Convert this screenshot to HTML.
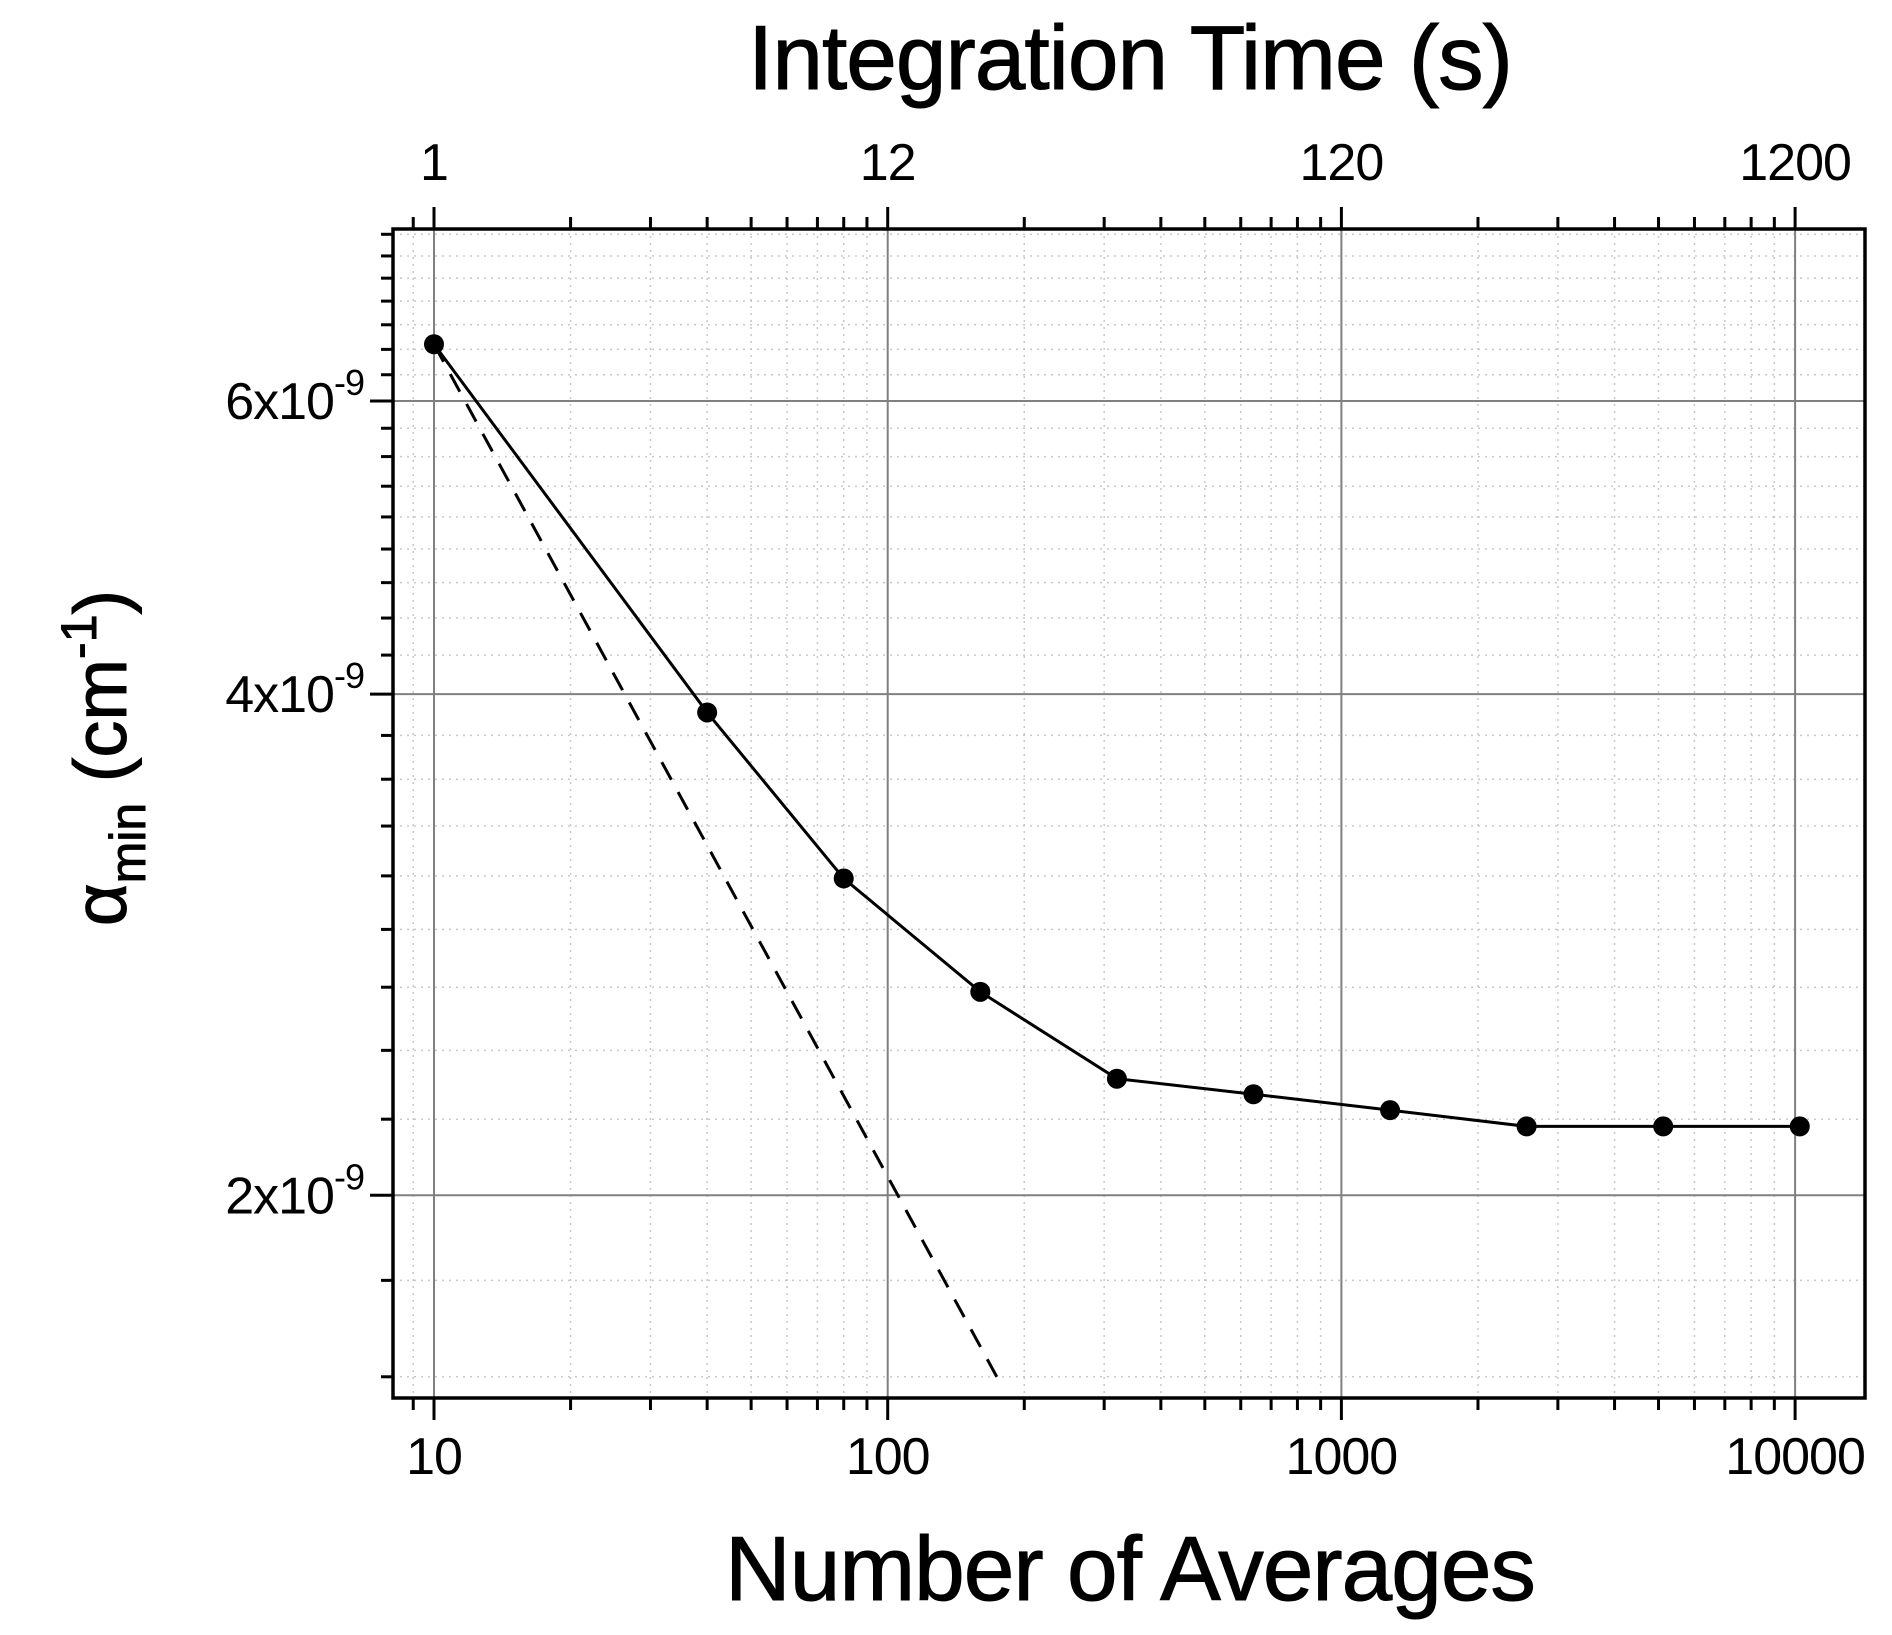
<!DOCTYPE html>
<html><head><meta charset="utf-8"><style>
html,body{margin:0;padding:0;background:#fff;}
svg{display:block;font-family:"Liberation Sans",Arial,sans-serif;}
</style></head><body>
<svg id="chart" width="1892" height="1635" viewBox="0 0 1892 1635" xmlns="http://www.w3.org/2000/svg">
<g id="grid"></g>
<g id="axes"></g>
<g id="series"></g>
<text x="1130" y="89" font-size="91" text-anchor="middle" letter-spacing="-1" stroke="#000" stroke-width="1">Integration Time (s)</text>
<text x="1130" y="1600" font-size="91" text-anchor="middle" letter-spacing="-1" stroke="#000" stroke-width="1">Number of Averages</text>
<text transform="translate(126,758) rotate(-90)" font-size="74" text-anchor="middle" stroke="#000" stroke-width="1">α<tspan font-size="50" dy="19">min</tspan><tspan dy="-19"> (cm</tspan><tspan font-size="50" dy="-30">-1</tspan><tspan dy="30">)</tspan></text>
</svg>
<script>
const averages=[10,40,80,160,320,640,1280,2560,5120,10240];
const alphaMin=[6.49e-9,3.90e-9,3.10e-9,2.65e-9,2.35e-9,2.30e-9,2.25e-9,2.20e-9,2.20e-9,2.20e-9];
const fitN=[10,175];
const xMajor=[10,100,1000,10000];
const xLabels=["10","100","1000","10000"];
const topLabels=["1","12","120","1200"];
const xMinor=[9,20,30,40,50,60,70,80,90,200,300,400,500,600,700,800,900,2000,3000,4000,5000,6000,7000,8000,9000];
const yMajor=[2e-9,4e-9,6e-9];
const yMinor=[1.556e-9,1.778e-9,2.222e-9,2.444e-9,2.667e-9,2.889e-9,3.111e-9,3.333e-9,3.556e-9,3.778e-9,4.222e-9,4.444e-9,4.667e-9,4.889e-9,5.111e-9,5.333e-9,5.556e-9,5.778e-9,6.222e-9,6.444e-9,6.667e-9,6.889e-9,7.111e-9,7.333e-9,7.556e-9];

const L=393,R=1865,T=229,B=1398;
const X=n=>434+Math.log10(n/10)*453.7;
const Y=v=>401-Math.log(v/6e-9)*723;
const NS="http://www.w3.org/2000/svg";
function mk(tag,parent,attrs){const e=document.createElementNS(NS,tag);for(const k in attrs)e.setAttribute(k,attrs[k]);parent.appendChild(e);return e;}
const grid=document.getElementById('grid'),axes=document.getElementById('axes'),series=document.getElementById('series');

xMinor.forEach(n=>{const x=X(n);if(x<=L||x>=R)return;
 const g=mk('line',grid,{x1:x,x2:x,y1:T,y2:B,stroke:'#c8c8c8','stroke-width':1.5,'stroke-dasharray':'2,5'});
 
 });
yMinor.forEach(v=>{const y=Y(v);
 const g=mk('line',grid,{x1:L,x2:R,y1:y,y2:y,stroke:'#c8c8c8','stroke-width':1.5,'stroke-dasharray':'2,5'});
 
 });
xMajor.forEach(n=>{const x=X(n);
 const g=mk('line',grid,{x1:x,x2:x,y1:T,y2:B,stroke:'#808080','stroke-width':2});
 
 });
yMajor.forEach(v=>{const y=Y(v);
 const g=mk('line',grid,{x1:L,x2:R,y1:y,y2:y,stroke:'#808080','stroke-width':2});
 
 });

const fr=mk('rect',axes,{x:L,y:T,width:R-L,height:B-T,fill:'none',stroke:'#000','stroke-width':3.5});



xMinor.forEach(n=>{const x=X(n);if(x<=L||x>=R)return;
 const t1=mk('line',axes,{x1:x,x2:x,y1:B,y2:B+12,stroke:'#000','stroke-width':3});
 
 
 const t2=mk('line',axes,{x1:x,x2:x,y1:T,y2:T-12,stroke:'#000','stroke-width':3});
 
 });
xMajor.forEach((n,i)=>{const x=X(n);
 const t1=mk('line',axes,{x1:x,x2:x,y1:B,y2:B+22,stroke:'#000','stroke-width':3});
 
 
 const t2=mk('line',axes,{x1:x,x2:x,y1:T,y2:T-22,stroke:'#000','stroke-width':3});
 
 
 const l1=mk('text',axes,{x:x,y:1474,'font-size':52,'text-anchor':'middle','letter-spacing':-1});l1.textContent=xLabels[i];
 
 
 const l2=mk('text',axes,{x:x,y:180,'font-size':52,'text-anchor':'middle','letter-spacing':-1});l2.textContent=topLabels[i];
 
 });
yMinor.forEach(v=>{const y=Y(v);
 const t=mk('line',axes,{x1:L,x2:L-12,y1:y,y2:y,stroke:'#000','stroke-width':3});
 
 });
yMajor.forEach(v=>{const y=Y(v);
 const t=mk('line',axes,{x1:L,x2:L-23,y1:y,y2:y,stroke:'#000','stroke-width':3});
 
 
 const l=mk('text',axes,{x:364,y:y+18,'font-size':52,'text-anchor':'end','letter-spacing':-1});
 l.innerHTML=(v*1e9).toFixed(0)+'x10<tspan font-size="36" dy="-24">-9</tspan>';
 
 });

const fitY=fitN.map(n=>alphaMin[0]*Math.sqrt(averages[0]/n));
const fit=mk('line',series,{x1:X(fitN[0]),y1:Y(fitY[0]),x2:X(fitN[1]),y2:Y(fitY[1]),stroke:'#000','stroke-width':3,'stroke-dasharray':'20,14'});


const pl=mk('polyline',series,{points:averages.map((n,i)=>X(n)+','+Y(alphaMin[i])).join(' '),fill:'none',stroke:'#000','stroke-width':3});


averages.forEach((n,i)=>{
 const c=mk('circle',series,{cx:X(n),cy:Y(alphaMin[i]),r:10,fill:'#000'});
 
 });
</script>
</body></html>
